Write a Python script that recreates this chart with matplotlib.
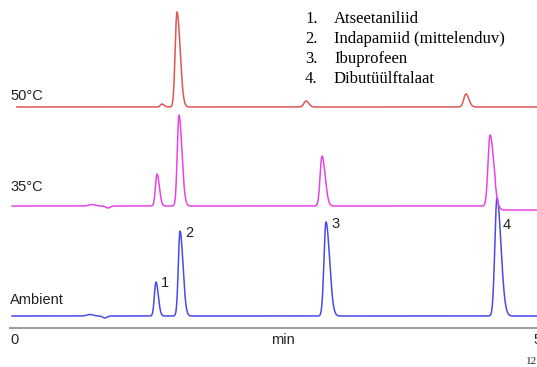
import numpy as np
import matplotlib.pyplot as plt

# peak tables: retention time (min), height, left width, right width
ambient_t = [0.76, 0.90, 1.385, 1.613, 2.998, 4.62]
ambient_h = [1.5, -2.0, 34, 85, 94, 118]
ambient_wl = [0.03, 0.02, 0.015, 0.016, 0.019, 0.02]
ambient_wr = [0.03, 0.02, 0.022, 0.028, 0.034, 0.038]

t35_t = [0.78, 0.93, 1.395, 1.603, 2.96, 4.554]
t35_h = [1.5, -2.0, 32, 91, 50, 71]
t35_wl = [0.03, 0.02, 0.015, 0.016, 0.018, 0.019]
t35_wr = [0.03, 0.02, 0.022, 0.028, 0.03, 0.036]

t50_t = [1.442, 1.584, 2.808, 4.326]
t50_h = [3, 95, 6, 13]
t50_wl = [0.015, 0.017, 0.02, 0.021]
t50_wr = [0.02, 0.03, 0.026, 0.028]

offsets = {'Ambient': 12, '35°C': 122, '50°C': 221}
starts = {'Ambient': 0.02, '35°C': 0.02, '50°C': 0.066}
colors = {'Ambient': '#4a4ae6', '35°C': '#e645e6', '50°C': '#e05555'}

legend_items = ['Atseetaniliid', 'Indapamiid (mittelenduv)', 'Ibuprofeen', 'Dibutüülftalaat']
peak_labels = ['1', '2', '3', '4']
label_y = [45, 95, 104, 103]


def trace(t, pt, ph, wl, wr):
    y = np.zeros_like(t)
    for c, h, a, b in zip(pt, ph, wl, wr):
        s = np.where(t < c, a, b)
        y += h * np.exp(-0.5 * ((t - c) / s) ** 2)
    return y


fig = plt.figure(figsize=(5.37, 3.67), dpi=100)
ax = fig.add_axes([10 / 537, 39 / 367, 527 / 537, 328 / 367])
ax.set_xlim(0, 5)
ax.set_ylim(0, 328)
ax.axis('off')

tables = {
    'Ambient': (ambient_t, ambient_h, ambient_wl, ambient_wr),
    '35°C': (t35_t, t35_h, t35_wl, t35_wr),
    '50°C': (t50_t, t50_h, t50_wl, t50_wr),
}
for name, (pt, ph, wl, wr) in tables.items():
    t = np.linspace(starts[name], 5, 2000)
    y = offsets[name] + trace(t, pt, ph, wl, wr)
    if name == '35°C':
        # baseline settles a little lower after the last peak
        y -= 4 * (t > pt[-1] + 0.05)
    ax.plot(t, y, color=colors[name], lw=1.1)

# axis line
ax.plot([0, 5], [0, 0], color='#a0a0a0', lw=1.5, clip_on=False)

# peak numbers on the ambient trace
for lab, c, ly in zip(peak_labels, ambient_t[2:], label_y):
    ax.text(c + 0.05, ly, lab, fontsize=10.5,
            family='Liberation Sans', color='#222222', va='center', ha='left')

sans = dict(fontsize=10.5, family='Liberation Sans', color='#222222')
fig.text(10 / 537, 1 - 96 / 367, '50°C', va='center', **sans)
fig.text(10 / 537, 1 - 187 / 367, '35°C', va='center', **sans)
fig.text(10 / 537, 1 - 300 / 367, 'Ambient', va='center', **sans)
fig.text(10 / 537, 1 - 340 / 367, '0', va='center', **sans)
fig.text(283 / 537, 1 - 340 / 367, 'min', va='center', ha='center', **sans)
fig.text(533 / 537, 1 - 340 / 367, '5', va='center', **sans)
fig.text(526 / 537, 1 - 362 / 367, '12', va='center', fontsize=8,
         family='Liberation Serif', color='#222222')

for i, item in enumerate(legend_items):
    yy = 1 - (19 + 20 * i) / 367
    fig.text(305 / 537, yy, f'{i + 1}.', va='center', fontsize=12,
             family='Liberation Serif')
    fig.text(334 / 537, yy, item, va='center', fontsize=12,
             family='Liberation Serif')

fig.savefig('out.png', dpi=100)
